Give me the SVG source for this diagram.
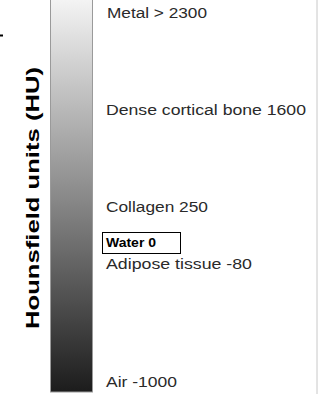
<svg xmlns="http://www.w3.org/2000/svg" width="320" height="394" viewBox="0 0 320 394">
<style>
.lbl{font-family:"Liberation Sans",Arial,sans-serif;font-size:14px;fill:#2a2a2a}
.axis{font-family:"Liberation Sans",Arial,sans-serif;font-size:19px;font-weight:bold;fill:#000}
.wt{font-family:"Liberation Sans",Arial,sans-serif;font-size:12px;font-weight:bold;fill:#000}
</style>
<defs>
<linearGradient id="g" x1="0" y1="0" x2="0" y2="1">
<stop offset="0" stop-color="#f4f4f4"/>
<stop offset="0.5" stop-color="#8a8a8a"/>
<stop offset="1" stop-color="#1c1c1c"/>
</linearGradient>
</defs>
<rect width="320" height="394" fill="#fff"/>
<line x1="317" y1="0" x2="317" y2="394" stroke="#c8c8c8" stroke-width="1"/>
<rect x="0" y="34.5" width="3" height="2" fill="#000"/>
<g id="scale-bar">
<rect x="50.5" y="-1" width="42" height="393" fill="url(#g)" stroke="#9a9a9a" stroke-width="1"/>
</g>
<g id="axis-label">
<text class="axis" transform="translate(39,198) rotate(-90)" text-anchor="middle" textLength="262" lengthAdjust="spacingAndGlyphs">Hounsfield units (HU)</text>
</g>
<g id="metal"><text class="lbl" x="107" y="18" textLength="100" lengthAdjust="spacingAndGlyphs">Metal &gt; 2300</text></g>
<g id="bone"><text class="lbl" x="106" y="115" textLength="200" lengthAdjust="spacingAndGlyphs">Dense cortical bone 1600</text></g>
<g id="collagen"><text class="lbl" x="106" y="212" textLength="102" lengthAdjust="spacingAndGlyphs">Collagen 250</text></g>
<g id="water">
<rect x="102.5" y="232.5" width="78" height="21" fill="#fff" stroke="#000" stroke-width="1"/>
<text class="wt" x="106" y="247" textLength="50" lengthAdjust="spacingAndGlyphs">Water 0</text>
</g>
<g id="adipose"><text class="lbl" x="106" y="269" textLength="146" lengthAdjust="spacingAndGlyphs">Adipose tissue -80</text></g>
<g id="air"><text class="lbl" x="106" y="387" textLength="71" lengthAdjust="spacingAndGlyphs">Air -1000</text></g>
</svg>
